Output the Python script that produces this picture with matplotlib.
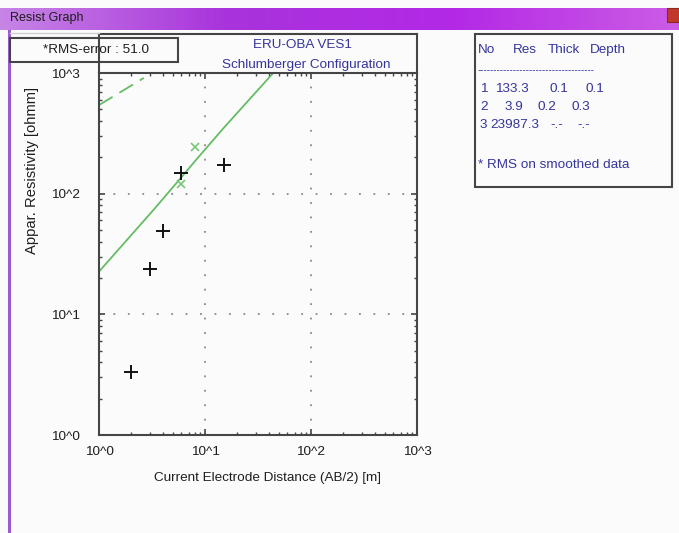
import numpy as np
import matplotlib
matplotlib.use("Agg")
import matplotlib.pyplot as plt
from matplotlib.patches import Rectangle
from matplotlib.lines import Line2D
from matplotlib.ticker import NullFormatter

plt.rcParams['font.family'] = ['Liberation Sans', 'DejaVu Sans']

# measured sounding data (AB/2 in m, apparent resistivity in ohmm)
ab2 = [2.0, 3.0, 4.0, 6.0, 15.0]
rho_obs = [3.35, 23.6, 49.0, 147.0, 173.0]

# smoothed data points
ab2_smooth = [6.0, 8.0]
rho_smooth = [120.0, 242.0]

# model curve
ab2_model = [1.0, 3.25, 6.0, 8.0, 14.9, 44.0]
rho_model = [22.6, 73.0, 137.0, 185.0, 348.0, 1000.0]

# dashed curve
ab2_dash = [1.0, 2.65]
rho_dash = [542.0, 910.0]

x_ticks = [1, 10, 100, 1000]
x_labels = ['10^0', '10^1', '10^2', '10^3']
y_ticks = [1, 10, 100, 1000]
y_labels = ['10^0', '10^1', '10^2', '10^3']

rms_text = '*RMS-error : 51.0'
title_lines = ['ERU-OBA VES1', 'Schlumberger Configuration']
table_header = ['No', 'Res', 'Thick', 'Depth']
table_rows = [['1', '133.3', '0.1', '0.1'],
              ['2', '3.9', '0.2', '0.3'],
              ['3', '23987.3', '-.-', '-.-']]
table_note = '* RMS on smoothed data'

W, H = 679, 533
BG = '#fbfbfb'
BLUE = '#35359c'
GREEN = '#66bb66'
FRAME = '#454545'
TXT = '#1e1e1e'
FS = 9.7


def fx(px):
    return px / W


def fy(py):
    return 1 - py / H


fig = plt.figure(figsize=(W / 100, H / 100), dpi=100, facecolor=BG)

# window title bar
bar = fig.add_axes([0, fy(30), 1, fy(8) - fy(30)])
grad = np.linspace(0, 1, 256)
cols = np.array([[0.78, 0.52, 0.90], [0.66, 0.20, 0.86], [0.70, 0.16, 0.90], [0.80, 0.36, 0.90]])
pos = np.linspace(0, 1, len(cols))
img = np.stack([np.interp(grad, pos, cols[:, i]) for i in range(3)], axis=-1)[None, :, :]
bar.imshow(img, aspect='auto', extent=[0, 1, 0, 1])
bar.set_axis_off()
fig.text(fx(10), fy(18), 'Resist Graph', fontsize=9, color=TXT, va='center', ha='left')
fig.add_artist(Rectangle((fx(667), fy(22)), fx(14), fy(8) - fy(22), transform=fig.transFigure,
                         facecolor='#c0392b', edgecolor='#8a2a20', lw=0.8))
# purple left border
fig.add_artist(Rectangle((fx(8), 0), fx(3), fy(30), transform=fig.transFigure,
                         facecolor='#9b5bd2', edgecolor='none'))

# main axes
ax = fig.add_axes([fx(99), fy(435), fx(417) - fx(99), fy(73) - fy(435)])
ax.set_facecolor(BG)
ax.set_xscale('log')
ax.set_yscale('log')
ax.set_xlim(1, 1000)
ax.set_ylim(1, 1000)

ax.plot(ab2_model, rho_model, '-', color=GREEN, lw=1.3)
ax.plot(ab2_dash, rho_dash, color=GREEN, lw=1.3, linestyle=(0, (8.8, 4.4)))
ax.plot(ab2_smooth, rho_smooth, 'x', color='#78c878', ms=6, mew=1.2)
ax.plot(ab2, rho_obs, '+', color='#111111', ms=10.5, mew=1.4)

ax.set_xticks(x_ticks)
ax.set_xticklabels(x_labels)
ax.set_yticks(y_ticks)
ax.set_yticklabels(y_labels)
ax.xaxis.set_minor_formatter(NullFormatter())
ax.yaxis.set_minor_formatter(NullFormatter())
ax.tick_params(which='both', direction='in', top=True, right=True, colors=FRAME,
               labelcolor=TXT, labelsize=FS)
ax.tick_params(which='major', length=4.5, width=1.2)
ax.tick_params(which='minor', length=2.2, width=1.0)
ax.tick_params(axis='y', pad=14)
ax.tick_params(axis='x', pad=8)
ax.grid(True, which='major', color='#8a8a8a', lw=1.3, linestyle=(0, (1, 7)))
for sp in ax.spines.values():
    sp.set_color(FRAME)
    sp.set_linewidth(1.5)

fig.text(fx(32), fy(171), 'Appar. Resistivity [ohmm]', rotation=90, fontsize=10.6,
         color=TXT, ha='center', va='center')
fig.text(fx(268), fy(478), 'Current Electrode Distance (AB/2) [m]', fontsize=FS,
         color=TXT, ha='center', va='center')

# title band frame above the axes
for (x0, y0, x1, y1) in [(99, 34, 417, 34), (99, 34, 99, 73), (417, 34, 417, 73)]:
    fig.add_artist(Line2D([fx(x0), fx(x1)], [fy(y0), fy(y1)], transform=fig.transFigure,
                          color=FRAME, lw=1.5))
fig.add_artist(Line2D([fx(10), fx(99)], [fy(33), fy(33)], transform=fig.transFigure,
                      color='#d0d0d0', lw=1.0))
fig.text(fx(302), fy(45), title_lines[0], fontsize=FS, color=BLUE, ha='center', va='center')
fig.text(fx(306), fy(65), title_lines[1], fontsize=FS, color=BLUE, ha='center', va='center')

# RMS error box
fig.add_artist(Rectangle((fx(10), fy(62)), fx(178) - fx(10), fy(38) - fy(62),
                         transform=fig.transFigure, facecolor=BG, edgecolor=FRAME, lw=1.5))
fig.text(fx(96), fy(50), rms_text, fontsize=FS, color=TXT, ha='center', va='center')

# layer table box
fig.add_artist(Rectangle((fx(475), fy(187)), fx(672) - fx(475), fy(34) - fy(187),
                         transform=fig.transFigure, facecolor=BG, edgecolor=FRAME, lw=1.5))
head_x = [478, 513, 548, 590]
for s, x in zip(table_header, head_x):
    fig.text(fx(x), fy(50), s, fontsize=FS, color=BLUE, ha='left', va='center')
fig.text(fx(478), fy(70), '-' * 36, fontsize=7, color=BLUE, ha='left', va='center')
row_y = [89, 107, 125]
row_x = [[480, 495, 550, 586],
         [480, 505, 538, 572],
         [480, 490, 550, 577]]
for row, xs, y in zip(table_rows, row_x, row_y):
    for s, x in zip(row, xs):
        fig.text(fx(x), fy(y), s, fontsize=FS, color=BLUE, ha='left', va='center')
fig.text(fx(478), fy(165), table_note, fontsize=FS, color=BLUE, ha='left', va='center')

fig.savefig('out.png', dpi=100, facecolor=BG)
